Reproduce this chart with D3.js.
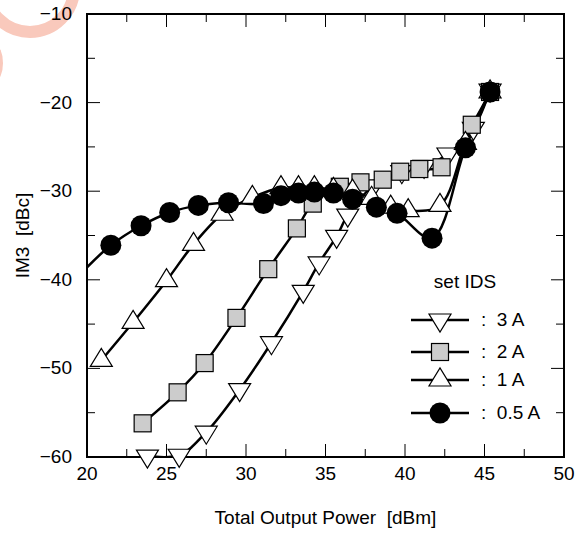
<!DOCTYPE html>
<html>
<head>
<meta charset="utf-8">
<script src="https://cdn.jsdelivr.net/npm/d3@7"></script>
<style>
  body { margin: 0; background: #fff; }
  svg { font-family: "Liberation Sans", Arial, sans-serif; }
  svg text { white-space: pre; }
</style>
</head>
<body>
<div id="chart"></div>
<script>

// series data
var x05 = [21.5, 23.4, 25.2, 27.0, 28.9, 31.1, 32.2, 33.3, 34.3, 35.5, 36.7, 38.2, 39.5, 41.7, 43.8, 45.35];
var y05 = [-36.1, -33.9, -32.4, -31.6, -31.3, -31.4, -30.5, -30.2, -30.1, -30.2, -30.9, -31.8, -32.5, -35.3, -25.1, -18.8];
var lead05 = [20, -38.6];   // curve continues to the left edge

var x1 = [20.9, 22.9, 25.0, 26.7, 28.5, 30.4, 32.2, 33.3, 34.3, 35.5, 36.7, 37.9, 39.1, 40.2, 42.2, 43.8, 45.35];
var y1 = [-49.1, -44.8, -40.1, -36.0, -32.6, -30.7, -29.6, -29.6, -29.6, -29.8, -30.0, -30.8, -31.8, -32.2, -31.6, -24.6, -18.8];

var x2 = [23.5, 25.7, 27.4, 29.4, 31.4, 33.2, 34.2, 35.9, 37.2, 38.6, 39.7, 40.9, 42.3, 44.2, 45.35];
var y2 = [-56.2, -52.7, -49.4, -44.3, -38.8, -34.2, -31.4, -29.5, -29.0, -28.7, -27.8, -27.5, -27.3, -22.5, -18.8];

var x3 = [23.8, 25.8, 27.5, 29.6, 31.6, 33.6, 34.6, 35.7, 36.4, 38.0, 39.8, 41.2, 42.7, 44.3, 45.35];
var y3 = [-59.9, -59.8, -57.2, -52.4, -47.1, -41.3, -38.1, -35.1, -32.7, -29.4, -27.8, -27.2, -25.8, -22.9, -18.6];

var xTicks = [20, 25, 30, 35, 40, 45, 50];
var yTicks = [-10, -20, -30, -40, -50, -60];
var legendNames = [":  3 A", ":  2 A", ":  1 A", ":  0.5 A"];

var width = 584, height = 533;
var margin = {left: 87, top: 14, right: 20, bottom: 76};
var fs = 19;

var svg = d3.select("#chart").append("svg")
    .attr("width", width)
    .attr("height", height);

// faint pink logo mark in the corner
svg.append("circle")
    .attr("cx", 30).attr("cy", -12).attr("r", 44)
    .attr("fill", "none")
    .attr("stroke", "#f9c9bc")
    .attr("stroke-width", 12);
svg.append("ellipse")
    .attr("cx", -5).attr("cy", 63).attr("rx", 8).attr("ry", 18)
    .attr("fill", "#f9c9bc");

var x = d3.scaleLinear().domain([20, 50]).range([margin.left, width - margin.right]);
var y = d3.scaleLinear().domain([-60, -10]).range([height - margin.bottom, margin.top]);

var x0 = x(20), x1p = x(50), yTop = y(-10), yBot = y(-60);

svg.append("defs").append("clipPath").attr("id", "plotclip")
  .append("rect")
    .attr("x", x0).attr("y", yTop)
    .attr("width", x1p - x0).attr("height", yBot - yTop);

// plot background hides the logo ring behind the frame
svg.append("rect")
    .attr("x", x0).attr("y", yTop)
    .attr("width", x1p - x0).attr("height", yBot - yTop)
    .attr("fill", "#fff");

// ticks, all pointing inward
var ticks = svg.append("g").attr("stroke", "#000").attr("stroke-width", 1);
d3.range(20, 50.1, 2.5).forEach(function(v){
  var len = (v % 5 === 0) ? 13 : 8;
  ticks.append("line").attr("x1", x(v)).attr("x2", x(v)).attr("y1", yBot).attr("y2", yBot - len);
  ticks.append("line").attr("x1", x(v)).attr("x2", x(v)).attr("y1", yTop).attr("y2", yTop + len);
});
d3.range(-60, -9, 5).forEach(function(v){
  var len = (v % 10 === 0) ? 13 : 8;
  ticks.append("line").attr("x1", x0).attr("x2", x0 + len).attr("y1", y(v)).attr("y2", y(v));
  ticks.append("line").attr("x1", x1p).attr("x2", x1p - len).attr("y1", y(v)).attr("y2", y(v));
});

svg.append("rect")
    .attr("x", x0).attr("y", yTop)
    .attr("width", x1p - x0).attr("height", yBot - yTop)
    .attr("fill", "none")
    .attr("stroke", "#000")
    .attr("stroke-width", 2);

// tick labels
svg.selectAll("text.xt")
    .data(xTicks)
    .enter()
    .append("text")
    .attr("class", "xt")
    .attr("x", function(d){ return x(d); })
    .attr("y", yBot + 23)
    .attr("text-anchor", "middle")
    .attr("font-size", fs)
    .text(function(d){ return d; });

svg.selectAll("text.yt")
    .data(yTicks)
    .enter()
    .append("text")
    .attr("class", "yt")
    .attr("x", x0 - 15)
    .attr("y", function(d){ return y(d) + 6; })
    .attr("text-anchor", "end")
    .attr("font-size", fs)
    .text(function(d){ return "\u2212" + Math.abs(d); });

svg.append("text")
    .attr("x", (x0 + x1p) / 2)
    .attr("y", 524)
    .attr("text-anchor", "middle")
    .attr("font-size", fs)
    .text("Total Output Power  [dBm]");

svg.append("text")
    .attr("transform", "translate(29," + ((yTop + yBot) / 2) + ") rotate(-90)")
    .attr("text-anchor", "middle")
    .attr("font-size", fs)
    .text("IM3  [dBc]");

// markers
var triH = 18, triW = 22;
function drawMarker(g, kind, cx, cy){
  if(kind === "down"){
    g.append("path")
      .attr("d", "M" + (cx - triW/2) + "," + (cy - triH/3) + "L" + (cx + triW/2) + "," + (cy - triH/3) + "L" + cx + "," + (cy + 2*triH/3) + "Z")
      .attr("fill", "#fff").attr("stroke", "#000").attr("stroke-width", 1.2);
  } else if(kind === "up"){
    g.append("path")
      .attr("d", "M" + (cx - triW/2) + "," + (cy + triH/3) + "L" + (cx + triW/2) + "," + (cy + triH/3) + "L" + cx + "," + (cy - 2*triH/3) + "Z")
      .attr("fill", "#fff").attr("stroke", "#000").attr("stroke-width", 1.2);
  } else if(kind === "square"){
    g.append("rect")
      .attr("x", cx - 8.5).attr("y", cy - 8.5).attr("width", 17).attr("height", 17)
      .attr("fill", "#cccccc").attr("stroke", "#000").attr("stroke-width", 1.2);
  } else {
    g.append("circle")
      .attr("cx", cx).attr("cy", cy).attr("r", 10.5)
      .attr("fill", "#000");
  }
}

var line = d3.line()
    .x(function(d){ return x(d[0]); })
    .y(function(d){ return y(d[1]); })
    .curve(d3.curveCatmullRom.alpha(0.5));

var series = [
  {xs: x3, ys: y3, kind: "down"},
  {xs: x2, ys: y2, kind: "square"},
  {xs: x1, ys: y1, kind: "up"},
  {xs: x05, ys: y05, kind: "circle", lead: lead05}
];

var plot = svg.append("g").attr("clip-path", "url(#plotclip)");

// lines first, then markers of each series on top
series.forEach(function(s){
  var pts = s.xs.map(function(v, i){ return [v, s.ys[i]]; });
  if(s.lead) pts.unshift(s.lead);
  plot.append("path")
    .datum(pts)
    .attr("d", line)
    .attr("fill", "none")
    .attr("stroke", "#000")
    .attr("stroke-width", 2.5);
});
series.forEach(function(s){
  var g = svg.append("g");
  s.xs.forEach(function(v, i){
    drawMarker(g, s.kind, x(v), y(s.ys[i]));
  });
});

// legend
var leg = svg.append("g");
leg.append("text")
    .attr("x", 465).attr("y", 288)
    .attr("text-anchor", "middle")
    .attr("font-size", fs)
    .text("set IDS");

var legRows = [320, 352, 380, 413];
series.forEach(function(s, i){
  var ly = legRows[i];
  leg.append("line")
    .attr("x1", 411).attr("x2", 469).attr("y1", ly).attr("y2", ly)
    .attr("stroke", "#000").attr("stroke-width", 2.5);
  drawMarker(leg, s.kind, 440, ly);
  leg.append("text")
    .attr("x", 481).attr("y", ly + 6)
    .attr("font-size", fs)
    .text(legendNames[i]);
});

</script>
</body>
</html>
